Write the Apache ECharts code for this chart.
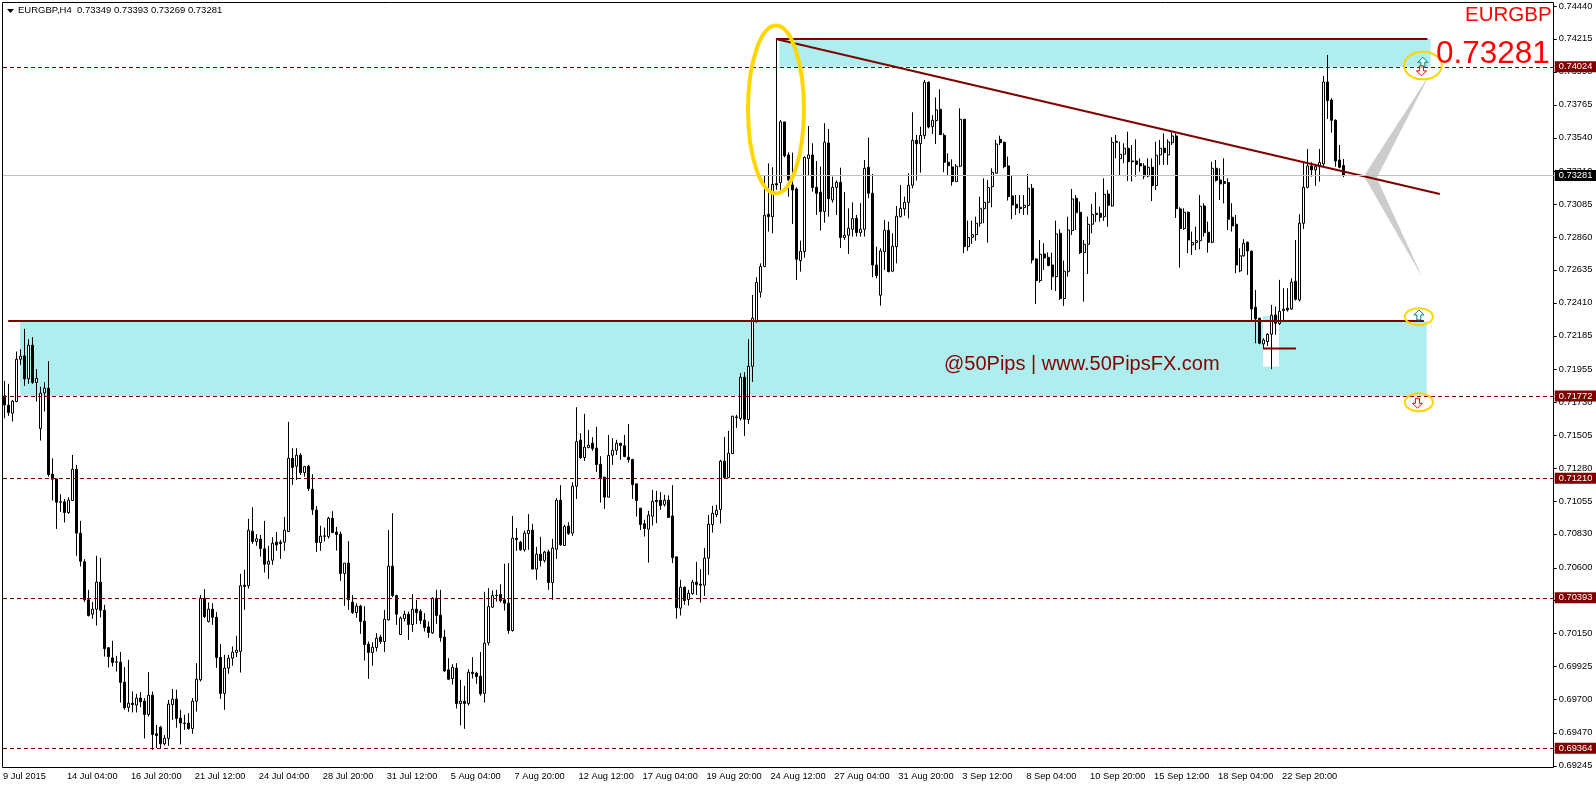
<!DOCTYPE html>
<html>
<head>
<meta charset="utf-8">
<title>EURGBP,H4</title>
<script src="https://cdn.jsdelivr.net/npm/echarts@6/dist/echarts.min.js"></script>
<style>
html,body{margin:0;padding:0;background:#fff;}
#chart{width:1596px;height:786px;}
</style>
</head>
<body>
<div id="chart"></div>
<script>
/* ==========================================================
   EURGBP H4, candles
========================================================== */

const opens=[
0.71774,0.71710,0.71655,0.71735,0.72024,0.72047,0.71890,0.72120,0.71865,0.71550,0.71794,0.71826,0.71238,0.71206,0.71049,0.71049,
0.70976,0.71058,0.71272,0.70835,0.70639,0.70379,0.70281,0.70315,0.70500,0.70308,0.70051,0.69982,0.69955,0.69953,0.69816,0.69643,
0.69672,0.69659,0.69707,0.69686,0.69595,0.69727,0.69463,0.69508,0.69394,0.69431,0.69663,0.69700,0.69570,0.69536,0.69536,0.69499,
0.69686,0.69832,0.70390,0.70231,0.70315,0.70260,0.69985,0.69739,0.69912,0.69980,0.70019,0.70026,0.70479,0.70475,0.70848,0.70778,
0.70794,0.70728,0.70623,0.70650,0.70773,0.70773,0.70773,0.70846,0.71347,0.71293,0.71368,0.71249,0.71293,0.71135,0.70992,0.70771,
0.70816,0.70812,0.70937,0.70842,0.70828,0.70559,0.70630,0.70363,0.70292,0.70336,0.70233,0.70076,0.70019,0.70053,0.70124,0.70094,
0.70242,0.70609,0.70408,0.70142,0.70251,0.70281,0.70210,0.70315,0.70301,0.70240,0.70194,0.70153,0.70390,0.70274,0.70124,0.69900,
0.69841,0.69912,0.69670,0.69686,0.69670,0.69884,0.69877,0.69857,0.69739,0.70085,0.70329,0.70411,0.70415,0.70379,0.70356,0.70169,
0.70800,0.70773,0.70721,0.70832,0.70855,0.70589,0.70691,0.70648,0.70707,0.70497,0.70725,0.71060,0.70750,0.70883,0.70835,0.71156,
0.71471,0.71352,0.71420,0.71450,0.71416,0.71306,0.71218,0.71081,0.71368,0.71402,0.71450,0.71432,0.71354,0.71338,0.71172,0.71006,
0.70899,0.70862,0.70951,0.71060,0.71060,0.71031,0.71060,0.70953,0.70673,0.70322,0.70465,0.70381,0.70422,0.70500,0.70486,0.70479,
0.70664,0.70894,0.70962,0.70997,0.71327,0.71215,0.71379,0.71630,0.71619,0.71901,0.71612,0.71976,0.72280,0.72482,0.72658,0.73015,
0.72999,0.73225,0.73232,0.73647,0.73421,0.73216,0.73189,0.72699,0.72760,0.73396,0.73421,0.73200,0.73166,0.73034,0.73503,0.73113,
0.73200,0.73234,0.72856,0.72872,0.72913,0.72988,0.72890,0.72913,0.73337,0.73159,0.72669,0.72462,0.72760,0.72906,0.72626,0.72794,
0.72999,0.73052,0.73097,0.73214,0.73521,0.73498,0.73553,0.73918,0.73615,0.73656,0.73733,0.73555,0.73371,0.73339,0.73239,0.73344,
0.73665,0.72794,0.72858,0.72876,0.72954,0.73054,0.73097,0.73204,0.73296,0.73528,0.73508,0.73346,0.73141,0.73084,0.73063,0.73061,
0.73075,0.73193,0.72710,0.72562,0.72744,0.72721,0.72669,0.72589,0.72885,0.72439,0.72623,0.72904,0.73125,0.73029,0.72753,0.72810,
0.72947,0.73022,0.73022,0.72999,0.73154,0.73072,0.73514,0.73396,0.73426,0.73467,0.73380,0.73380,0.73362,0.73346,0.73277,0.73337,
0.73211,0.73421,0.73467,0.73421,0.73505,0.73551,0.73052,0.72917,0.73029,0.72806,0.72822,0.72835,0.73072,0.72892,0.72824,0.73330,
0.73250,0.73239,0.73232,0.72995,0.72947,0.72628,0.72731,0.72824,0.72763,0.72380,0.72305,0.72129,0.72145,0.72195,0.72327,0.72268,
0.72357,0.72373,0.72368,0.72558,0.72430,0.72954,0.73200,0.73346,0.73319,0.73341,0.73360,0.73920,0.73797,0.73658,0.73387,0.73349
];

const closes=[
0.71712,0.71660,0.71737,0.72024,0.72045,0.71890,0.72120,0.71865,0.71894,0.71792,0.71826,0.71236,0.71204,0.71047,0.71047,0.70976,
0.71060,0.71272,0.70835,0.70643,0.70379,0.70272,0.70315,0.70500,0.70308,0.70046,0.69991,0.69950,0.69953,0.69814,0.69641,0.69672,
0.69663,0.69707,0.69682,0.69595,0.69727,0.69458,0.69451,0.69394,0.69433,0.69666,0.69700,0.69568,0.69536,0.69533,0.69499,0.69686,
0.69836,0.70390,0.70265,0.70315,0.70260,0.69985,0.69739,0.69912,0.69980,0.70021,0.70035,0.70475,0.70470,0.70855,0.70778,0.70796,
0.70730,0.70623,0.70643,0.70766,0.70755,0.70764,0.70855,0.71347,0.71284,0.71368,0.71249,0.71290,0.71140,0.70996,0.70771,0.70814,
0.70814,0.70937,0.70839,0.70826,0.70559,0.70630,0.70379,0.70292,0.70336,0.70231,0.70073,0.70019,0.70055,0.70117,0.70094,0.70247,
0.70609,0.70408,0.70281,0.70254,0.70281,0.70210,0.70315,0.70292,0.70238,0.70190,0.70156,0.70390,0.70272,0.70121,0.69893,0.69836,
0.69918,0.69670,0.69686,0.69670,0.69884,0.69875,0.69855,0.69736,0.70083,0.70333,0.70408,0.70408,0.70374,0.70356,0.70169,0.70800,
0.70791,0.70721,0.70835,0.70855,0.70589,0.70691,0.70648,0.70705,0.70497,0.70732,0.71060,0.70755,0.70880,0.70832,0.71156,0.71461,
0.71350,0.71423,0.71436,0.71414,0.71304,0.71215,0.71081,0.71366,0.71402,0.71450,0.71434,0.71359,0.71338,0.71167,0.71058,0.70894,
0.70867,0.70958,0.71053,0.71051,0.71024,0.71060,0.70942,0.70668,0.70326,0.70465,0.70374,0.70424,0.70500,0.70484,0.70479,0.70664,
0.70896,0.70971,0.70992,0.71327,0.71215,0.71382,0.71635,0.71626,0.71901,0.71614,0.71976,0.72305,0.72550,0.72658,0.73009,0.72999,
0.73220,0.73216,0.73647,0.73416,0.73250,0.73182,0.72708,0.72762,0.73405,0.73421,0.73198,0.73159,0.73034,0.73508,0.73122,0.73200,
0.73234,0.72856,0.72872,0.72920,0.72986,0.72890,0.72913,0.73330,0.73159,0.72669,0.72596,0.72765,0.72906,0.72623,0.72797,0.73002,
0.73056,0.73097,0.73214,0.73521,0.73498,0.73555,0.73918,0.73612,0.73658,0.73729,0.73560,0.73371,0.73348,0.73239,0.73344,0.73665,
0.72794,0.72856,0.72876,0.72954,0.73056,0.73097,0.73198,0.73303,0.73496,0.73505,0.73341,0.73136,0.73079,0.73059,0.73054,0.73077,
0.73193,0.72703,0.72562,0.72742,0.72717,0.72664,0.72589,0.72881,0.72439,0.72626,0.72908,0.73120,0.73027,0.72753,0.72810,0.72947,
0.73015,0.73013,0.72995,0.73152,0.73077,0.73508,0.73508,0.73426,0.73467,0.73375,0.73375,0.73357,0.73346,0.73277,0.73337,0.73211,
0.73419,0.73467,0.73437,0.73510,0.73551,0.73054,0.72917,0.73029,0.72840,0.72822,0.72835,0.73070,0.72890,0.72824,0.73330,0.73248,
0.73223,0.73227,0.72981,0.72936,0.72669,0.72731,0.72817,0.72765,0.72368,0.72300,0.72134,0.72156,0.72195,0.72325,0.72270,0.72352,
0.72366,0.72362,0.72551,0.72434,0.72954,0.73200,0.73346,0.73319,0.73341,0.73369,0.73920,0.73793,0.73658,0.73380,0.73337,0.73281
];

const highs=[
0.71876,0.71856,0.71746,0.72077,0.72093,0.72232,0.72161,0.72175,0.71956,0.71837,0.71867,0.72011,0.71347,0.71206,0.71101,0.71069,
0.71081,0.71370,0.71302,0.70919,0.70657,0.70447,0.70365,0.70680,0.70666,0.70345,0.70055,0.70099,0.69996,0.70023,0.69919,0.69969,
0.69752,0.69736,0.69748,0.69707,0.69884,0.69752,0.69524,0.69517,0.69454,0.69695,0.69770,0.69764,0.69627,0.69593,0.69604,0.69707,
0.69946,0.70413,0.70452,0.70361,0.70356,0.70295,0.70076,0.70003,0.70003,0.70060,0.70133,0.70557,0.70584,0.70933,0.71012,0.70828,
0.70823,0.70919,0.70748,0.70807,0.70842,0.70789,0.70946,0.71596,0.71416,0.71416,0.71382,0.71295,0.71302,0.71238,0.71019,0.70885,
0.70873,0.70946,0.70985,0.70878,0.70846,0.70630,0.70780,0.70411,0.70356,0.70345,0.70336,0.70094,0.70089,0.70151,0.70140,0.70310,
0.70857,0.70971,0.70413,0.70265,0.70304,0.70299,0.70418,0.70379,0.70315,0.70288,0.70231,0.70397,0.70447,0.70447,0.70174,0.69980,
0.69939,0.69946,0.69832,0.69791,0.69905,0.69987,0.69887,0.70023,0.70434,0.70459,0.70443,0.70447,0.70486,0.70625,0.70630,0.70953,
0.70869,0.70782,0.70853,0.70965,0.70899,0.70741,0.70810,0.70714,0.70721,0.70796,0.71074,0.71163,0.70892,0.70910,0.71183,0.71696,
0.71518,0.71651,0.71541,0.71491,0.71562,0.71361,0.71218,0.71507,0.71484,0.71473,0.71450,0.71507,0.71582,0.71343,0.71172,0.71006,
0.70926,0.70987,0.71131,0.71124,0.71115,0.71097,0.71092,0.71163,0.70673,0.70516,0.70470,0.70447,0.70516,0.70639,0.70589,0.70734,
0.70960,0.71022,0.71028,0.71336,0.71493,0.71534,0.71635,0.71644,0.71929,0.71935,0.72161,0.72464,0.72585,0.72680,0.73284,0.73364,
0.73337,0.74214,0.73660,0.73647,0.73439,0.73437,0.73200,0.72835,0.73410,0.73619,0.73501,0.73380,0.73341,0.73638,0.73599,0.73273,
0.73246,0.73334,0.73168,0.73056,0.73097,0.73011,0.73091,0.73387,0.73540,0.73291,0.72794,0.72783,0.72977,0.72965,0.72885,0.73072,
0.73216,0.73136,0.73296,0.73713,0.73558,0.73615,0.73934,0.73925,0.73694,0.73815,0.73870,0.73569,0.73432,0.73391,0.73359,0.73740,
0.73667,0.72972,0.72972,0.72999,0.73136,0.73261,0.73250,0.73330,0.73524,0.73553,0.73512,0.73410,0.73284,0.73147,0.73147,0.73147,
0.73291,0.73223,0.72714,0.72840,0.72817,0.72756,0.72753,0.72972,0.72913,0.72699,0.72999,0.73189,0.73147,0.73102,0.72840,0.72999,
0.73086,0.73166,0.73068,0.73261,0.73182,0.73542,0.73558,0.73512,0.73501,0.73580,0.73489,0.73528,0.73398,0.73364,0.73398,0.73398,
0.73512,0.73524,0.73569,0.73528,0.73576,0.73569,0.73063,0.73056,0.73034,0.72897,0.72931,0.73147,0.73091,0.72965,0.73375,0.73387,
0.73330,0.73398,0.73261,0.73091,0.73011,0.72783,0.72845,0.72829,0.72767,0.72498,0.72305,0.72168,0.72202,0.72396,0.72384,0.72567,
0.72510,0.72510,0.72578,0.72840,0.73016,0.73371,0.73462,0.73371,0.73353,0.73462,0.73961,0.74105,0.73809,0.73665,0.73490,0.73393
];

const lows=[
0.71621,0.71637,0.71598,0.71730,0.71986,0.71842,0.71856,0.71856,0.71735,0.71468,0.71667,0.71222,0.71058,0.70864,0.70981,0.70908,
0.70967,0.71058,0.70680,0.70607,0.70365,0.70265,0.70249,0.70203,0.70258,0.69991,0.69916,0.69923,0.69889,0.69677,0.69627,0.69613,
0.69609,0.69609,0.69645,0.69431,0.69581,0.69353,0.69365,0.69365,0.69383,0.69381,0.69558,0.69504,0.69390,0.69490,0.69490,0.69463,
0.69615,0.69821,0.70254,0.70224,0.70208,0.69914,0.69702,0.69627,0.69873,0.69928,0.69987,0.69882,0.70311,0.70456,0.70762,0.70748,
0.70675,0.70566,0.70522,0.70618,0.70714,0.70659,0.70714,0.70846,0.71165,0.71199,0.71233,0.71222,0.71124,0.70960,0.70707,0.70714,
0.70778,0.70798,0.70835,0.70716,0.70509,0.70338,0.70310,0.70283,0.70256,0.70146,0.69964,0.69839,0.69928,0.70026,0.70078,0.70023,
0.70238,0.70397,0.70208,0.70142,0.70231,0.70105,0.70160,0.70213,0.70213,0.70162,0.70119,0.70146,0.70215,0.70092,0.69887,0.69832,
0.69800,0.69636,0.69520,0.69497,0.69656,0.69841,0.69805,0.69723,0.69677,0.70067,0.70324,0.70367,0.70361,0.70306,0.70146,0.70162,
0.70714,0.70714,0.70709,0.70721,0.70589,0.70516,0.70607,0.70634,0.70447,0.70379,0.70659,0.70748,0.70750,0.70823,0.70816,0.71069,
0.71343,0.71329,0.71416,0.71398,0.71254,0.71044,0.71001,0.71081,0.71302,0.71370,0.71336,0.71354,0.71318,0.71069,0.70949,0.70857,
0.70812,0.70634,0.70887,0.70903,0.70994,0.71017,0.70942,0.70630,0.70251,0.70272,0.70345,0.70340,0.70413,0.70413,0.70361,0.70406,
0.70550,0.70839,0.70944,0.70901,0.71206,0.71215,0.71379,0.71555,0.71605,0.71500,0.71582,0.71869,0.72275,0.72446,0.72658,0.72897,
0.72885,0.73182,0.73182,0.73405,0.73136,0.72949,0.72566,0.72623,0.72719,0.73284,0.73170,0.73011,0.72904,0.72958,0.72999,0.73095,
0.73011,0.72785,0.72840,0.72744,0.72863,0.72863,0.72863,0.72863,0.73125,0.72585,0.72578,0.72391,0.72635,0.72619,0.72623,0.72680,
0.72993,0.73006,0.72988,0.73193,0.73246,0.73300,0.73530,0.73603,0.73565,0.73496,0.73558,0.73303,0.73284,0.73211,0.73239,0.73337,
0.72749,0.72765,0.72813,0.72835,0.72931,0.72954,0.72822,0.73063,0.73296,0.73489,0.73330,0.73109,0.72981,0.73011,0.73022,0.73011,
0.73011,0.72680,0.72402,0.72548,0.72635,0.72664,0.72498,0.72491,0.72430,0.72389,0.72589,0.72874,0.72908,0.72744,0.72418,0.72607,
0.72885,0.72963,0.72965,0.72970,0.72931,0.73068,0.73398,0.73284,0.73364,0.73243,0.73239,0.73273,0.73307,0.73255,0.73268,0.73106,
0.73182,0.73353,0.73353,0.73353,0.73489,0.72990,0.72651,0.72908,0.72749,0.72737,0.72771,0.72776,0.72863,0.72753,0.72817,0.73239,
0.73113,0.73090,0.72908,0.72897,0.72612,0.72619,0.72726,0.72601,0.72282,0.72134,0.72127,0.72099,0.72115,0.71956,0.72191,0.72259,
0.72282,0.72350,0.72362,0.72425,0.72419,0.72915,0.73193,0.73273,0.73209,0.73239,0.73341,0.73667,0.73574,0.73341,0.73330,0.73269
];

// one label every 16 bars
const timeLabels=["9 Jul 2015","14 Jul 04:00","16 Jul 20:00","21 Jul 12:00","24 Jul 04:00","28 Jul 20:00","31 Jul 12:00","5 Aug 04:00","7 Aug 20:00","12 Aug 12:00","17 Aug 04:00","19 Aug 20:00","24 Aug 12:00","27 Aug 04:00","31 Aug 20:00","3 Sep 12:00","8 Sep 04:00","10 Sep 20:00","15 Sep 12:00","18 Sep 04:00","22 Sep 20:00"];

const priceTicks=[0.74440,0.74215,0.73990,0.73765,0.73540,0.73310,0.73085,0.72860,0.72635,0.72410,0.72185,0.71955,0.71730,0.71505,0.71280,0.71055,0.70830,0.70600,0.70375,0.70150,0.69925,0.69700,0.69470,0.69245];

const levels=[0.74024,0.71772,0.71210,0.70393,0.69364];
const lastPrice=0.73281;

// annotations, in [bar, price]
const zones=[
    [193.75,0.74214,356.7,0.74024,"#AFEEEE"],
    [3.75,0.72286,355.7,0.71772,"#AFEEEE"],
    [314.75,0.72320,318.75,0.72286,"#AFEEEE"],
    [314.75,0.72286,318.75,0.71974,"#FFFFFF"]
];
const wedges=[
    [[340,0.73278],[343.2,0.73264],[356.5,0.73975]],
    [[340,0.73278],[343.2,0.73264],[354.7,0.72580]]
];
const ovals=[
    [192.9,0.73732,7,0.00574,4],
    [354.75,0.74032,4.75,0.00094,2],
    [353.75,0.72315,3.5,0.00058,2],
    [353.75,0.71730,3.5,0.00062,2]
];
const arrows=[
    [354.75,0.74055,1,"#008080"],
    [354.4,0.73996,-1,"#FF0000"],
    [353.75,0.72327,1,"#008080"],
    [353.4,0.71723,-1,"#FF0000"]
];
const trendLines=[
    [[192.9,0.74214],[355.9,0.74214]],
    [[0.8,0.72286],[355,0.72286]],
    [[192.9,0.74214],[359,0.73154]],
    [[314.75,0.72097],[323,0.72097]]
];

const BARS_ON_AXIS=388;
const FONT="'Liberation Sans',Arial,sans-serif";
const DARK_RED="#800000";

const categories=[];
for(let i=0;i<BARS_ON_AXIS;i++){
    categories.push(i%16===0&&timeLabels[i/16]?timeLabels[i/16]:"");
}

const candles=opens.map((o,i)=>[o,closes[i],lows[i],highs[i]]);

function tagLine(value,color,tagColor,lineType){
    return {
        yAxis:value,
        lineStyle:{color:color,width:1,type:lineType},
        label:{
            show:true,
            position:"end",
            distance:1,
            formatter:value.toFixed(5),
            color:"#fff",
            backgroundColor:tagColor,
            padding:[1,4,1,4],
            fontFamily:FONT,
            fontSize:9.3
        }
    };
}

const chart=echarts.init(document.getElementById("chart"));

const option={

    animation:false,

    backgroundColor:"#fff",

    // left 1.75 so a 2.5px candle snaps to three clean pixel columns
    grid:{
        show:false,
        left:1.75,
        top:2,
        right:42.25,
        bottom:18
    },

    xAxis:[{
        type:"category",
        data:categories,
        boundaryGap:true,
        axisLine:{show:false},
        axisTick:{
            length:3,
            alignWithLabel:true,
            interval:i=>i%16===0&&i<=320,
            lineStyle:{color:"#000"}
        },
        axisLabel:{
            interval:i=>i%16===0&&i<=320,
            align:"left",
            margin:4,
            color:"#000",
            fontFamily:FONT,
            fontSize:9.3,
            padding:[0,0,0,-2],
            hideOverlap:false
        },
        splitLine:{show:false}
    },{
        type:"value",
        show:false,
        min:-0.5,
        max:BARS_ON_AXIS-0.5
    }],

    yAxis:{
        type:"value",
        position:"right",
        scale:true,
        min:0.69229,
        max:0.74467,
        axisLine:{show:false},
        axisTick:{show:false},
        axisLabel:{
            margin:5,
            customValues:priceTicks,
            formatter:v=>v.toFixed(5),
            color:"#000",
            fontFamily:FONT,
            fontSize:9.3,
            padding:[0,0,2,0]
        },
        splitLine:{show:false}
    },

    series:[

        {
            type:"custom",
            name:"zones",
            xAxisIndex:1,
            z:1,
            data:zones.map(z=>[z[0],z[1],z[2],z[3]]),
            encode:{x:[0,2],y:[1,3]},
            renderItem:(params,api)=>{
                const z=zones[params.dataIndex];
                const a=api.coord([z[0],z[1]]);
                const b=api.coord([z[2],z[3]]);
                return {
                    type:"rect",
                    shape:{x:a[0],y:a[1],width:b[0]-a[0],height:b[1]-a[1]},
                    style:{fill:z[4]}
                };
            }
        },

        {
            type:"custom",
            name:"price ticks",
            xAxisIndex:1,
            z:2,
            data:priceTicks.map(p=>[BARS_ON_AXIS-0.5,p]),
            encode:{x:0,y:1},
            renderItem:(params,api)=>{
                const c=api.coord([api.value(0),api.value(1)]);
                const y=Math.round(c[1])+0.5;
                return {
                    type:"line",
                    shape:{x1:c[0],y1:y,x2:c[0]+3,y2:y},
                    style:{stroke:"#000",lineWidth:1}
                };
            }
        },

        {
            type:"line",
            name:"levels",
            xAxisIndex:1,
            z:2,
            data:levels.concat([lastPrice]).map(v=>[0,v]),
            symbol:"none",
            lineStyle:{opacity:0},
            markLine:{
                silent:true,
                symbol:"none",
                animation:false,
                precision:5,
                data:levels.map(v=>tagLine(v,DARK_RED,DARK_RED,[4,3]))
                    .concat([tagLine(lastPrice,"#C0C0C0","#000","solid")])
            }
        },

        {
            type:"custom",
            name:"wedges",
            xAxisIndex:1,
            z:2,
            data:wedges.map(w=>w[2]),
            encode:{x:0,y:1},
            renderItem:(params,api)=>({
                type:"polygon",
                shape:{points:wedges[params.dataIndex].map(p=>api.coord(p))},
                style:{fill:"#CCCCCC"}
            })
        },

        {
            type:"candlestick",
            name:"EURGBP,H4",
            xAxisIndex:0,
            z:3,
            barWidth:2.5,
            clip:false,
            data:candles,
            itemStyle:{
                color:"#fff",
                color0:"#000",
                borderColor:"#000",
                borderColor0:"#000",
                borderWidth:1
            }
        },

        ...trendLines.map(l=>({
            type:"line",
            xAxisIndex:1,
            z:4,
            data:l,
            showSymbol:false,
            symbol:"none",
            lineStyle:{color:DARK_RED,width:2}
        })),

        {
            type:"custom",
            name:"ovals",
            xAxisIndex:1,
            z:5,
            data:ovals.map(o=>[o[0],o[1]]),
            encode:{x:0,y:1},
            renderItem:(params,api)=>{
                const o=ovals[params.dataIndex];
                const c=api.coord([o[0],o[1]]);
                const e=api.coord([o[0]+o[2],o[1]+o[3]]);
                return {
                    type:"ellipse",
                    shape:{cx:c[0],cy:c[1],rx:e[0]-c[0],ry:c[1]-e[1]},
                    style:{fill:"none",stroke:"#FFD700",lineWidth:o[4]}
                };
            }
        },

        {
            type:"custom",
            name:"arrows",
            xAxisIndex:1,
            z:6,
            data:arrows.map(a=>[a[0],a[1]]),
            encode:{x:0,y:1},
            renderItem:(params,api)=>{
                const a=arrows[params.dataIndex];
                const c=api.coord([a[0],a[1]]);
                const d=-a[2];
                return {
                    type:"polygon",
                    shape:{points:[
                        [c[0],c[1]+5*d],
                        [c[0]+5,c[1]],
                        [c[0]+2,c[1]],
                        [c[0]+2,c[1]-5*d],
                        [c[0]-2,c[1]-5*d],
                        [c[0]-2,c[1]],
                        [c[0]-5,c[1]]
                    ]},
                    style:{fill:"rgba(255,255,255,0.6)",stroke:a[3],lineWidth:1}
                };
            }
        }

    ],

    graphic:[
        {
            type:"rect",
            z:1,
            silent:true,
            shape:{x:2.5,y:2.5,width:1551,height:765},
            style:{fill:"none",stroke:"#000",lineWidth:1}
        },
        {
            type:"polygon",
            z:20,
            shape:{points:[[7,9],[14,9],[10.5,13]]},
            style:{fill:"#000"}
        },
        {
            type:"text",
            z:20,
            left:18,
            top:5,
            style:{
                text:"EURGBP,H4  0.73349 0.73393 0.73269 0.73281",
                fill:"#000",
                font:"9.5px "+FONT
            }
        },
        {
            type:"text",
            z:20,
            left:1465,
            top:5,
            style:{
                text:"EURGBP",
                fill:"#FF0000",
                font:"20.5px "+FONT
            }
        },
        {
            type:"text",
            z:20,
            left:1436,
            top:38,
            style:{
                text:"0.73281",
                fill:"#FF0000",
                font:"31.5px "+FONT
            }
        },
        {
            type:"text",
            z:20,
            left:944,
            top:354,
            style:{
                text:"@50Pips | www.50PipsFX.com",
                fill:DARK_RED,
                font:"20px "+FONT
            }
        }
    ]

};

chart.setOption(option);
</script>
</body>
</html>
